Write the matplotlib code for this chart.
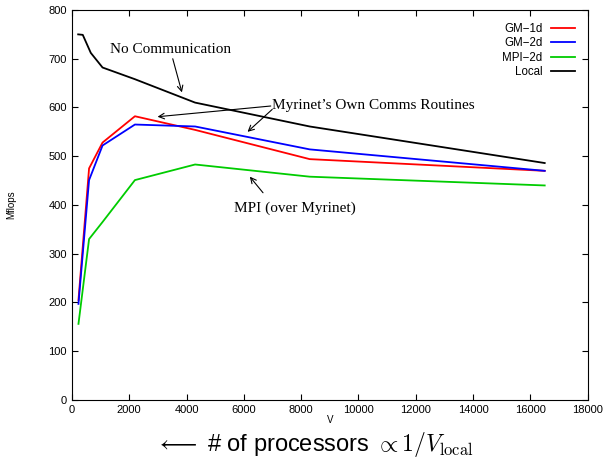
import numpy as np
import matplotlib.pyplot as plt

# V values
v = [230, 600, 1070, 2200, 4300, 8300, 16500]
v_local = [220, 380, 660, 1070, 2200, 4300, 8300, 16500]

gm_1d = [205, 475, 528, 582, 554, 494, 470]
gm_2d = [197, 451, 522, 565, 561, 514, 470]
mpi_2d = [156, 330, 365, 451, 483, 458, 440]
local = [750, 749, 712, 682, 658, 610, 561, 486]

series = [
    ('GM\u22121d', v, gm_1d, '#ff0000'),
    ('GM\u22122d', v, gm_2d, '#0000ff'),
    ('MPI\u22122d', v, mpi_2d, '#00cc00'),
    ('Local', v_local, local, '#000000'),
]

plt.rcParams['font.family'] = ['Liberation Sans', 'DejaVu Sans']
plt.rcParams['mathtext.fontset'] = 'cm'

fig = plt.figure(figsize=(6.04, 4.65), dpi=100)
ax = fig.add_axes([0.119, 0.140, 0.854, 0.8385])

for name, xs, ys, col in series:
    ax.plot(xs, ys, color=col, lw=1.3, label=name)

ax.set_xlim(0, 18000)
ax.set_ylim(0, 800)
ax.set_xticks(np.arange(0, 18001, 2000))
ax.set_yticks(np.arange(0, 801, 100))
ax.tick_params(direction='in', top=True, right=True, labelsize=8, length=4)
ax.set_xlabel('V', fontsize=7, labelpad=0)
ax.set_ylabel('Mflops', fontsize=7, labelpad=23)

leg = ax.legend(loc='upper right', frameon=False, fontsize=8.3, markerfirst=False,
                handlelength=2.1, labelspacing=0.22, borderaxespad=0.7,
                handletextpad=0.7)

serif = dict(family='Liberation Serif', fontsize=11)
arrow = dict(arrowstyle='->', color='black', lw=0.8, shrinkA=0, shrinkB=0)

ax.text(1330, 718, 'No Communication', va='center', ha='left', **serif)
ax.annotate('', xy=(3840, 631), xytext=(3520, 700), arrowprops=arrow)

ax.text(7000, 605, 'Myrinet\u2019s Own Comms Routines', va='center', ha='left', **serif)
ax.annotate('', xy=(2990, 581), xytext=(6940, 603), arrowprops=arrow)
ax.annotate('', xy=(6130, 550), xytext=(6990, 596), arrowprops=arrow)

ax.text(7780, 394, 'MPI (over Myrinet)', va='center', ha='center', **serif)
ax.annotate('', xy=(6210, 458), xytext=(6670, 425), arrowprops=arrow)

fig.text(0.521, 0.045, r'$\longleftarrow$ # of processors $\propto 1/V_{\rm local}$',
         ha='center', va='center', fontsize=17)

fig.savefig('out.png', dpi=100)
